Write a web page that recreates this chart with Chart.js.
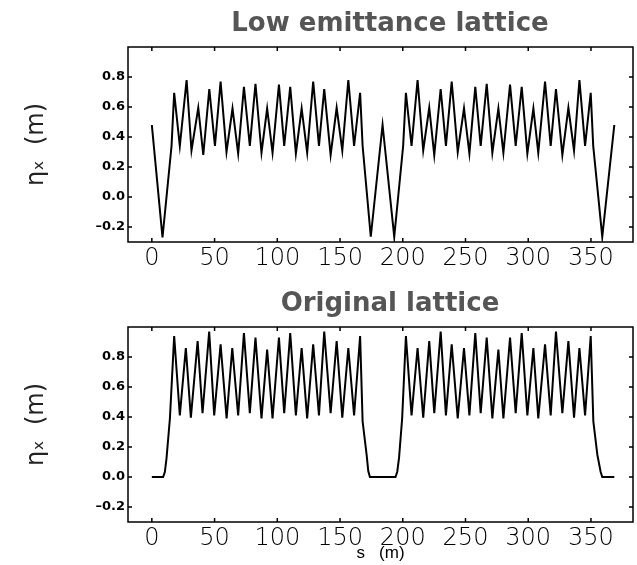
<!DOCTYPE html>
<html>
<head>
<meta charset="utf-8">
<script src="https://cdn.jsdelivr.net/npm/chart.js@4.4.0/dist/chart.umd.min.js"></script>
<style>
body { margin: 0; background: #fff; }
canvas { display: block; }
</style>
</head>
<body>
<canvas id="lowChart" width="637" height="280"></canvas>
<canvas id="origChart" width="637" height="285"></canvas>
<script>
// low emittance lattice: dispersion eta_x (m) along s (m)
var sLow = [0, 8.5, 15.7, 17.8, 22.3, 27.7, 31.6, 37, 41, 45.8, 50.3, 54.8, 59.5, 64.3, 68.8, 73.4, 78.1, 82.6, 87.4,
    91.9, 96.2, 101.3, 105.5, 110.3, 114.8, 119.4, 123.8, 128.6, 133.2, 137.4, 142.5, 147.3, 151.8, 156.6, 161.2,
    166, 168, 174.5,
    183.9, 193.2, 200.3, 202.5, 207, 211.8, 216.3, 221.1, 225.1, 230.2, 234.4, 239, 243.8, 248.8, 253.1, 257.8,
    262.1, 266.9, 271.4, 276.2, 280.2, 285.5, 290, 294.8, 299.3, 304.1, 308, 313.4, 317.9, 322.1, 327.2, 332,
    336.5, 340.8, 345.3, 349.8, 351.8, 359, 368.6];
var etaLow = [0.48, -0.27, 0.34, 0.695, 0.34, 0.78, 0.31, 0.595, 0.28, 0.72, 0.34, 0.77, 0.30, 0.59, 0.29, 0.735, 0.34, 0.755, 0.295,
    0.59, 0.295, 0.75, 0.34, 0.735, 0.29, 0.59, 0.295, 0.77, 0.34, 0.72, 0.28, 0.595, 0.31, 0.78, 0.34,
    0.695, 0.34, -0.265,
    0.48, -0.265, 0.34, 0.695, 0.34, 0.78, 0.31, 0.595, 0.28, 0.72, 0.34, 0.77, 0.30, 0.59, 0.29, 0.735,
    0.34, 0.755, 0.295, 0.59, 0.295, 0.75, 0.34, 0.735, 0.29, 0.59, 0.295, 0.77, 0.34, 0.72, 0.28, 0.595,
    0.31, 0.78, 0.34, 0.695, 0.34, -0.265, 0.48];

// original lattice
var sOrig = [0, 9, 10.4, 11.7, 14.4, 17.8, 22.3, 27.1, 31.1, 36.5, 40.4, 45.7, 49.7, 54.8, 59.6, 64.1, 68.8, 73.4, 78.1,
    82.6, 87.4, 91.9, 96.2, 101.3, 105.5, 110.3, 114.8, 119.4, 123.8, 128.6, 133.2, 137.4, 142.5, 147.3, 151.8,
    156.6, 161.2, 166, 168, 171.2, 172.5, 173.8,
    194.2, 195.6, 197, 199.5, 202.5, 207, 211.8, 216.3, 221.1, 225.1, 230.2, 234.4, 239, 243.8, 248.8, 253.1,
    257.8, 262.1, 266.9, 271.4, 276.2, 280.2, 285.5, 290, 294.8, 299.3, 304.1, 308, 313.4, 317.9, 322.1, 327.2,
    332, 336.5, 340.8, 345.3, 349.8, 351.9, 355.1, 357.7, 359, 368.6];
var etaOrig = [0, 0, 0.035, 0.125, 0.39, 0.94, 0.41, 0.86, 0.395, 0.906, 0.425, 0.97, 0.41, 0.885, 0.39, 0.86, 0.41, 0.96, 0.425,
    0.93, 0.39, 0.85, 0.39, 0.93, 0.425, 0.96, 0.41, 0.86, 0.39, 0.885, 0.41, 0.97, 0.425, 0.906, 0.395,
    0.86, 0.41, 0.94, 0.37, 0.147, 0.04, 0,
    0, 0.035, 0.125, 0.39, 0.94, 0.41, 0.86, 0.395, 0.906, 0.425, 0.97, 0.41, 0.885, 0.39, 0.86, 0.41,
    0.96, 0.425, 0.93, 0.39, 0.85, 0.39, 0.93, 0.425, 0.96, 0.41, 0.86, 0.39, 0.885, 0.41, 0.97, 0.425,
    0.906, 0.395, 0.86, 0.41, 0.94, 0.37, 0.147, 0.035, 0, 0];

var xTicks = [0, 50, 100, 150, 200, 250, 300, 350];
var yTicks = [-0.2, 0, 0.2, 0.4, 0.6, 0.8];

var titleLow = 'Low emittance lattice';
var titleOrig = 'Original lattice';
var yTitle = 'ηₓ  (m)';
var xTitle = 's   (m)';

function toPoints(xs, ys) {
    var pts = [];
    for (var i = 0; i < xs.length; i++) {
        pts.push({x: xs[i], y: ys[i]});
    }
    return pts;
}

// frame with inward ticks on all four sides, plus the grey title
var framePlugin = {
    id: 'frame',
    afterDraw: function(chart, args, opts) {
        var ctx = chart.ctx;
        var a = chart.chartArea;
        var xs = chart.scales.x, ys = chart.scales.y;
        var t = 4;
        ctx.save();
        ctx.strokeStyle = '#000';
        ctx.lineWidth = 1.5;
        ctx.strokeRect(a.left, a.top, a.right - a.left, a.bottom - a.top);
        ctx.beginPath();
        xs.ticks.forEach(function(tk) {
            var px = xs.getPixelForValue(tk.value);
            ctx.moveTo(px, a.bottom); ctx.lineTo(px, a.bottom - t);
            ctx.moveTo(px, a.top); ctx.lineTo(px, a.top + t);
        });
        ys.ticks.forEach(function(tk) {
            var py = ys.getPixelForValue(tk.value);
            ctx.moveTo(a.left, py); ctx.lineTo(a.left + t, py);
            ctx.moveTo(a.right, py); ctx.lineTo(a.right - t, py);
        });
        ctx.stroke();

        ctx.font = 'bold 26px "DejaVu Sans"';
        ctx.fillStyle = '#555555';
        ctx.textAlign = 'center';
        ctx.textBaseline = 'alphabetic';
        ctx.fillText(opts.text, opts.cx, opts.baseline);
        ctx.restore();
    }
};

function makeChart(id, title, xs, ys, xHeight, showXTitle) {
    var cfg = {
        type: 'scatter',
        data: {
            datasets: [
                {
                    data: toPoints(xs, ys),
                    showLine: true,
                    borderColor: '#000',
                    borderWidth: 2,
                    pointRadius: 0,
                    tension: 0,
                },
            ]
        },
        options: {
            responsive: false,
            animation: false,
            layout: {
                padding: {top: 47, right: 4, left: 0, bottom: 0}
            },
            plugins: {
                legend: {display: false},
                tooltip: {enabled: false},
                frame: {text: title, cx: 390, baseline: 31},
            },
            scales: {
                x: {
                    type: 'linear',
                    min: -19,
                    max: 383.5,
                    grid: {display: false, drawTicks: false},
                    border: {display: false},
                    afterBuildTicks: function(scale) {
                        scale.ticks = xTicks.map(function(v) { return {value: v}; });
                    },
                    afterFit: function(scale) {
                        scale.height = xHeight;
                    },
                    ticks: {
                        padding: 2,
                        maxRotation: 0,
                        autoSkip: false,
                        color: '#000',
                        font: {family: 'DejaVu Sans', size: 24, weight: '200'},
                        callback: function(v) { return String(v); }
                    },
                    title: {
                        display: showXTitle,
                        text: xTitle,
                        color: '#000',
                        font: {family: 'Liberation Sans', size: 17},
                        padding: {top: 0, bottom: 1}
                    }
                },
                y: {
                    type: 'linear',
                    min: -0.3,
                    max: 1.0,
                    grid: {display: false, drawTicks: false},
                    border: {display: false},
                    afterBuildTicks: function(scale) {
                        scale.ticks = yTicks.map(function(v) { return {value: v}; });
                    },
                    afterFit: function(scale) {
                        scale.width = 128;
                    },
                    ticks: {
                        padding: 3,
                        color: '#000',
                        font: {family: 'DejaVu Sans', size: 13, weight: 'bold'},
                        callback: function(v) {
                            return v < 0 ? '\u2013' + Math.abs(v).toFixed(1) : v.toFixed(1);
                        }
                    },
                    title: {
                        display: true,
                        text: yTitle,
                        color: '#222',
                        font: {family: 'DejaVu Sans', size: 24},
                        padding: {top: 22, bottom: 0}
                    }
                }
            }
        },
        plugins: [framePlugin]
    };
    return new Chart(document.getElementById(id), cfg);
}

var lowChart = makeChart('lowChart', titleLow, sLow, etaLow, 280 - 242, false);
var origChart = makeChart('origChart', titleOrig, sOrig, etaOrig, 285 - 242, true);
</script>
</body>
</html>
